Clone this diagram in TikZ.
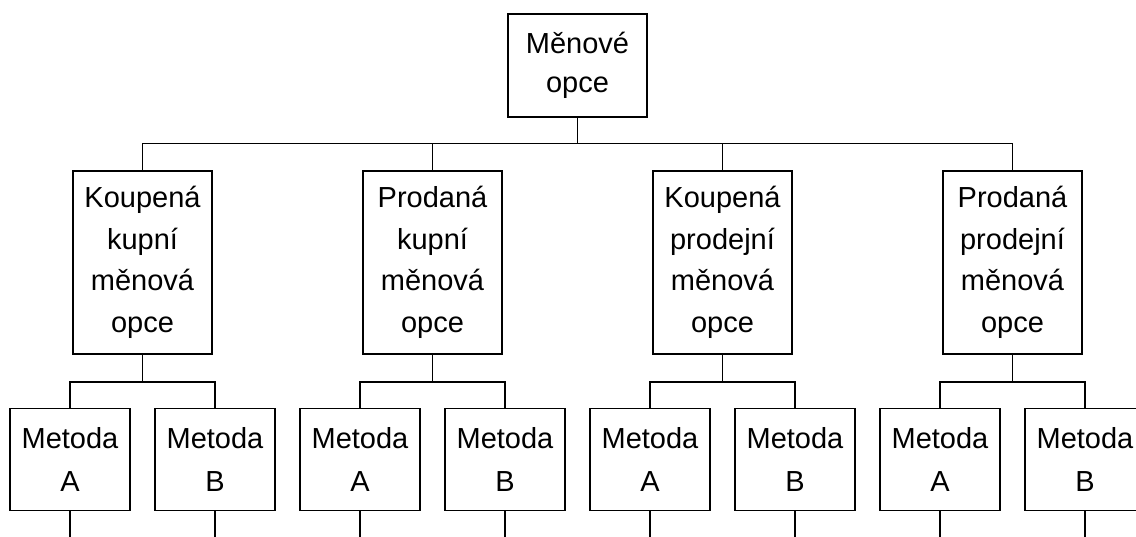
\documentclass[tikz,border=0pt]{standalone}
\usepackage{fontspec}
\setmainfont{Liberation Sans}
\begin{document}
\begin{tikzpicture}[x=1pt,y=-1pt,
  line width=1.8pt,
  box/.style={draw, rectangle, align=center, inner sep=0pt},
  topbox/.style={box, minimum width=139pt, minimum height=103pt,
    font=\fontsize{29}{38.5}\selectfont},
  typebox/.style={box, minimum width=139pt, minimum height=183pt,
    font=\fontsize{29}{41.5}\selectfont},
  methodbox/.style={box, minimum width=120pt, minimum height=102pt,
    font=\fontsize{29}{43}\selectfont}]
  \clip (0,0) rectangle (1136,536);

  % root
  \node[topbox] (root) at (577.5,65.5) {Měnové\\opce};

  % option types
  \node[typebox] (k1) at (142.5,262.4) {Koupená\\kupní\\měnová\\opce};
  \node[typebox] (k2) at (432.5,262.4) {Prodaná\\kupní\\měnová\\opce};
  \node[typebox] (k3) at (722.5,262.4) {Koupená\\prodejní\\měnová\\opce};
  \node[typebox] (k4) at (1012.5,262.4) {Prodaná\\prodejní\\měnová\\opce};

  % methods
  \foreach \i/\cx in {1/142.5,2/432.5,3/722.5,4/1012.5}{
    \node[methodbox] (a\i) at (\cx-72.5,459.5) {Metoda\\A};
    \node[methodbox] (b\i) at (\cx+72.5,459.5) {Metoda\\B};
    \coordinate (ea\i) at (\cx-72.5,545);
    \coordinate (eb\i) at (\cx+72.5,545);
  }

  % connectors
  \coordinate (bus) at (0,143.5);
  \coordinate (sub) at (0,381.7);
  \draw (root.south) -- (root.south |- bus);
  \draw (k1.north) -- (k1.north |- bus) -- (k4.north |- bus) -- (k4.north);
  \draw (k2.north) -- (k2.north |- bus);
  \draw (k3.north) -- (k3.north |- bus);
  \foreach \i in {1,2,3,4}{
    \draw (k\i.south) -- (k\i.south |- sub);
    \draw (a\i.north) -- (a\i.north |- sub) -- (b\i.north |- sub) -- (b\i.north);
    \draw (a\i.south) -- (ea\i);
    \draw (b\i.south) -- (eb\i);
  }
\end{tikzpicture}
\end{document}
